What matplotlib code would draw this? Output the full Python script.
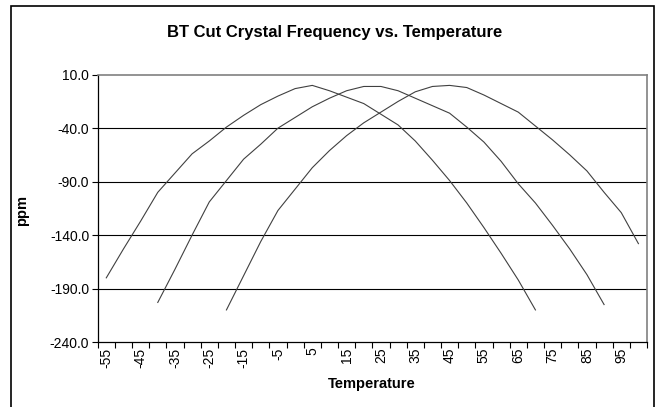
import numpy as np
import matplotlib
matplotlib.use("Agg")
import matplotlib.pyplot as plt
from matplotlib.patches import Rectangle

# categories (temperature, deg C)
temps = list(range(-55, 105, 5))

# three crystals, turning points near 5, 25 and 45 C
start_a = -55
ppm_a = [-180, -153, -127, -100, -82, -64, -52, -39, -28, -18, -10, -3, 0,
         -5, -11, -17, -27, -37, -52, -70, -89, -110, -133, -157, -182, -210]
start_b = -40
ppm_b = [-203, -172, -140, -109, -89, -69, -55, -40, -30, -20, -12, -5, -1,
         -1, -5, -12, -19, -26, -39, -53, -71, -92, -110, -131, -153, -177, -205]
start_c = -20
ppm_c = [-210, -178, -146, -117, -97, -77, -61, -47, -35, -25, -15, -6, -1,
         0, -2, -9, -17, -25, -38, -51, -65, -80, -100, -119, -148]

yticks = [10, -40, -90, -140, -190, -240]

plt.rcParams['font.family'] = ['Liberation Sans', 'DejaVu Sans']

fig = plt.figure(figsize=(6.6, 4.07), dpi=100)
ax = fig.add_axes([97.7 / 660, 1 - 342 / 407, (647 - 97.7) / 660, (342 - 74.7) / 407])

for start, vals in [(start_a, ppm_a), (start_b, ppm_b), (start_c, ppm_c)]:
    i0 = temps.index(start)
    x = np.arange(i0, i0 + len(vals)) + 0.5
    ax.plot(x, vals, color='#404040', lw=0.8, solid_joinstyle='miter')

ax.set_xlim(0, len(temps))
ax.set_ylim(-240, 10)

# gridlines
for v in yticks[1:-1]:
    ax.axhline(v, color='black', lw=0.8, zorder=0)

ax.set_yticks(yticks)
ax.set_yticklabels([f"{v:.1f}" for v in yticks], fontsize=10)
ax.tick_params(axis='y', direction='out', length=4, width=0.8, pad=2)

# tick marks between categories, labels on every other category
ax.set_xticks(range(len(temps) + 1))
ax.set_xticklabels([])
ax.tick_params(axis='x', which='major', direction='out', length=4, width=0.8)
ax.set_xticks([i + 0.5 for i in range(0, len(temps), 2)], minor=True)
ax.set_xticklabels([str(t) for t in temps[::2]], minor=True, rotation=90, fontsize=10)
ax.tick_params(axis='x', which='minor', length=0, pad=4)

for s in ['left', 'bottom']:
    ax.spines[s].set_color('black')
    ax.spines[s].set_linewidth(0.9)
for s in ['top', 'right']:
    ax.spines[s].set_color('#808080')
    ax.spines[s].set_linewidth(1.2)

fig.text(335 / 660, 1 - 32 / 407, 'BT Cut Crystal Frequency vs. Temperature',
         ha='center', va='center', fontsize=12, fontweight='bold')
fig.text(372 / 660, 1 - 384 / 407, 'Temperature', ha='center', va='center',
         fontsize=10.5, fontweight='bold')
fig.text(22 / 660, 1 - 210 / 407, 'ppm', ha='center', va='center',
         fontsize=10.5, fontweight='bold', rotation=90)

# chart area border
fig.patches.append(Rectangle((11 / 660, -0.02), (654 - 11) / 660, 1.02 - 6 / 407,
                             transform=fig.transFigure, fill=False,
                             edgecolor='black', lw=1.2))

fig.savefig('out.png', dpi=100)
